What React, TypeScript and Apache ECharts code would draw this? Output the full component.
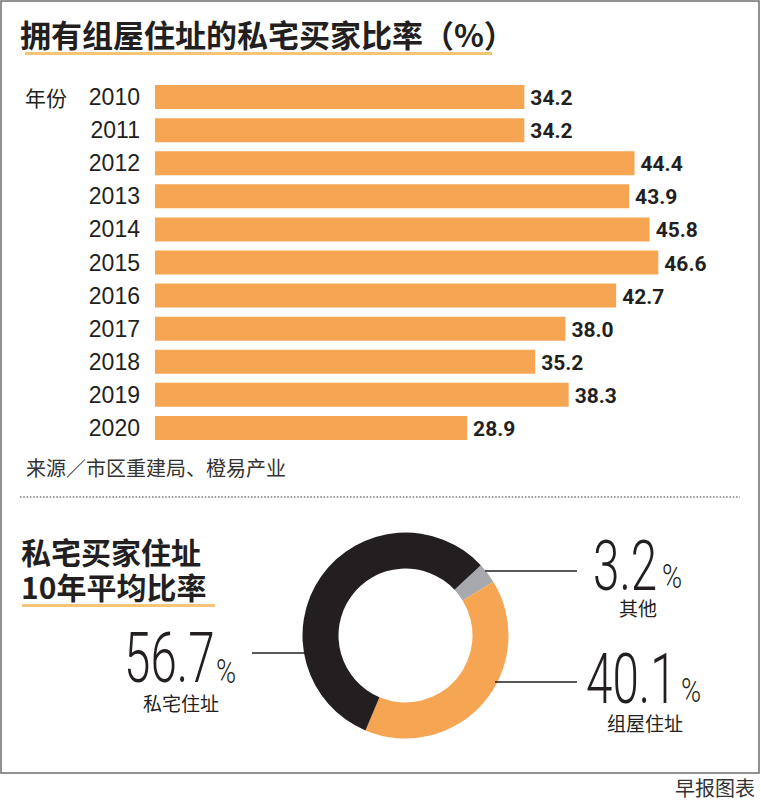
import React, { useEffect, useRef } from "react";
import * as echarts from "echarts";

// Share of private-home buyers with an HDB address, by year (%)
const years = ["2010", "2011", "2012", "2013", "2014", "2015", "2016", "2017", "2018", "2019", "2020"];
const buyerShare = [34.2, 34.2, 44.4, 43.9, 45.8, 46.6, 42.7, 38.0, 35.2, 38.3, 28.9];

// 10-year average split of buyer addresses (%)
const addressTypes = ["其他", "组屋住址", "私宅住址"];
const addressShare = [3.2, 40.1, 56.7];
const addressColors = ["#a7a9ac", "#f6a553", "#231f20"];

const TITLE = "拥有组屋住址的私宅买家比率（%）";
const SOURCE = "来源／市区重建局、橙易产业";
const SUBTITLE = ["私宅买家住址", "10年平均比率"];
const FOOTER = "早报图表";

const CJK = '"Noto Sans CJK SC", "Noto Sans", sans-serif';
const THIN = 'Roboto, "Liberation Sans", sans-serif';
const INK = "#231f20";
const GOLD = "#f5c577";

type Callout = {
  idx: number;
  numX: number;
  numY: number;
  pctX: number;
  pctY: number;
  nameX: number;
  nameY: number;
  line: [number, number, number];
};

// Placement of the donut callouts (big figure, %, name, leader line)
const callouts: Callout[] = [
  { idx: 2, numX: 124, numY: 658, pctX: 216, pctY: 671, nameX: 181, nameY: 702, line: [252, 305, 653] },
  { idx: 0, numX: 593, numY: 566, pctX: 662, pctY: 576, nameX: 638, nameY: 607, line: [485, 577, 571] },
  { idx: 1, numX: 586, numY: 679, pctX: 681, pctY: 690, nameX: 645, nameY: 722, line: [495, 577, 682] },
];

function calloutGraphics(c: Callout): any[] {
  return [
    {
      type: "line",
      shape: { x1: c.line[0], y1: c.line[2], x2: c.line[1], y2: c.line[2] },
      style: { stroke: INK, lineWidth: 1.5 },
      z: 10,
    },
    {
      type: "text",
      x: c.numX,
      y: c.numY,
      scaleX: 0.68,
      style: {
        text: addressShare[c.idx].toFixed(1),
        fontFamily: THIN,
        fontWeight: 300,
        fontSize: 70,
        fill: INK,
        textAlign: "left",
        textVerticalAlign: "middle",
      },
    },
    {
      type: "text",
      x: c.pctX,
      y: c.pctY,
      scaleX: 0.8,
      style: {
        text: "%",
        fontFamily: THIN,
        fontWeight: 300,
        fontSize: 34,
        fill: INK,
        textAlign: "left",
        textVerticalAlign: "middle",
      },
    },
    {
      type: "text",
      x: c.nameX,
      y: c.nameY,
      style: {
        text: addressTypes[c.idx],
        fontFamily: CJK,
        fontSize: 19,
        fill: INK,
        textAlign: "center",
        textVerticalAlign: "middle",
      },
    },
  ];
}

export default function App() {
  const ref = useRef<HTMLDivElement>(null);

  useEffect(() => {
    if (!ref.current) return;
    const chart = echarts.init(ref.current, null, { renderer: "svg" });

    const option: any = {
      animation: false,
      backgroundColor: "#ffffff",
      grid: { left: 155, top: 80.5, width: 594, height: 364, containLabel: false },
      xAxis: {
        type: "value",
        min: 0,
        max: 55,
        show: false,
      },
      yAxis: {
        type: "category",
        data: years,
        inverse: true,
        axisLine: { show: false },
        axisTick: { show: false },
        splitLine: { show: false },
        axisLabel: {
          margin: 15,
          fontFamily: '"Liberation Sans", Arial, sans-serif',
          fontSize: 23,
          color: INK,
        },
      },
      series: [
        {
          type: "bar",
          data: buyerShare,
          barWidth: 24,
          itemStyle: { color: "#f6a553" },
          label: {
            show: true,
            position: "right",
            distance: 6,
            offset: [0, 1],
            formatter: (p: any) => Number(p.value).toFixed(1),
            fontFamily: 'Roboto, "Open Sans", sans-serif',
            fontWeight: "bold",
            fontSize: 21,
            color: INK,
          },
        },
        {
          type: "pie",
          center: [405.5, 635.5],
          radius: [67, 103],
          startAngle: 43,
          clockwise: true,
          silent: true,
          label: { show: false },
          labelLine: { show: false },
          data: addressTypes.map((name, i) => ({
            name,
            value: addressShare[i],
            itemStyle: { color: addressColors[i] },
          })),
        },
      ],
      graphic: [
        // frame around the graphic
        {
          type: "rect",
          shape: { x: 1, y: 1, width: 758, height: 772 },
          style: { fill: "none", stroke: "#6d6e71", lineWidth: 1.5 },
          silent: true,
        },
        {
          type: "text",
          x: 20,
          y: 33,
          style: {
            text: TITLE,
            fontFamily: CJK,
            fontWeight: "bold",
            fontSize: 31,
            fill: INK,
            textVerticalAlign: "middle",
          },
        },
        {
          type: "rect",
          shape: { x: 25, y: 52, width: 467, height: 3 },
          style: { fill: GOLD },
        },
        {
          type: "text",
          x: 25,
          y: 97,
          style: {
            text: "年份",
            fontFamily: CJK,
            fontSize: 21,
            fill: INK,
            textVerticalAlign: "middle",
          },
        },
        {
          type: "text",
          x: 26,
          y: 467,
          style: {
            text: SOURCE,
            fontFamily: CJK,
            fontSize: 20,
            fill: "#333333",
            textVerticalAlign: "middle",
          },
        },
        {
          type: "line",
          shape: { x1: 20, y1: 497, x2: 740, y2: 497 },
          style: { stroke: "#9a9a9a", lineWidth: 2, lineDash: [1.5, 1.8] },
        },
        {
          type: "text",
          x: 21,
          y: 568.5,
          style: {
            text: SUBTITLE.join("\n"),
            fontFamily: CJK,
            fontWeight: "bold",
            fontSize: 30,
            lineHeight: 35,
            fill: INK,
            textVerticalAlign: "middle",
          },
        },
        {
          type: "rect",
          shape: { x: 22, y: 604, width: 193, height: 3 },
          style: { fill: GOLD },
        },
        ...callouts.flatMap(calloutGraphics),
        {
          type: "text",
          x: 755,
          y: 787,
          style: {
            text: FOOTER,
            fontFamily: CJK,
            fontSize: 20,
            fill: "#333333",
            textAlign: "right",
            textVerticalAlign: "middle",
          },
        },
      ],
    };

    chart.setOption(option);
    return () => chart.dispose();
  }, []);

  return (
    <div
      ref={ref}
      style={{ position: "absolute", left: 0, top: 0, width: 761, height: 800, background: "#fff" }}
    />
  );
}
